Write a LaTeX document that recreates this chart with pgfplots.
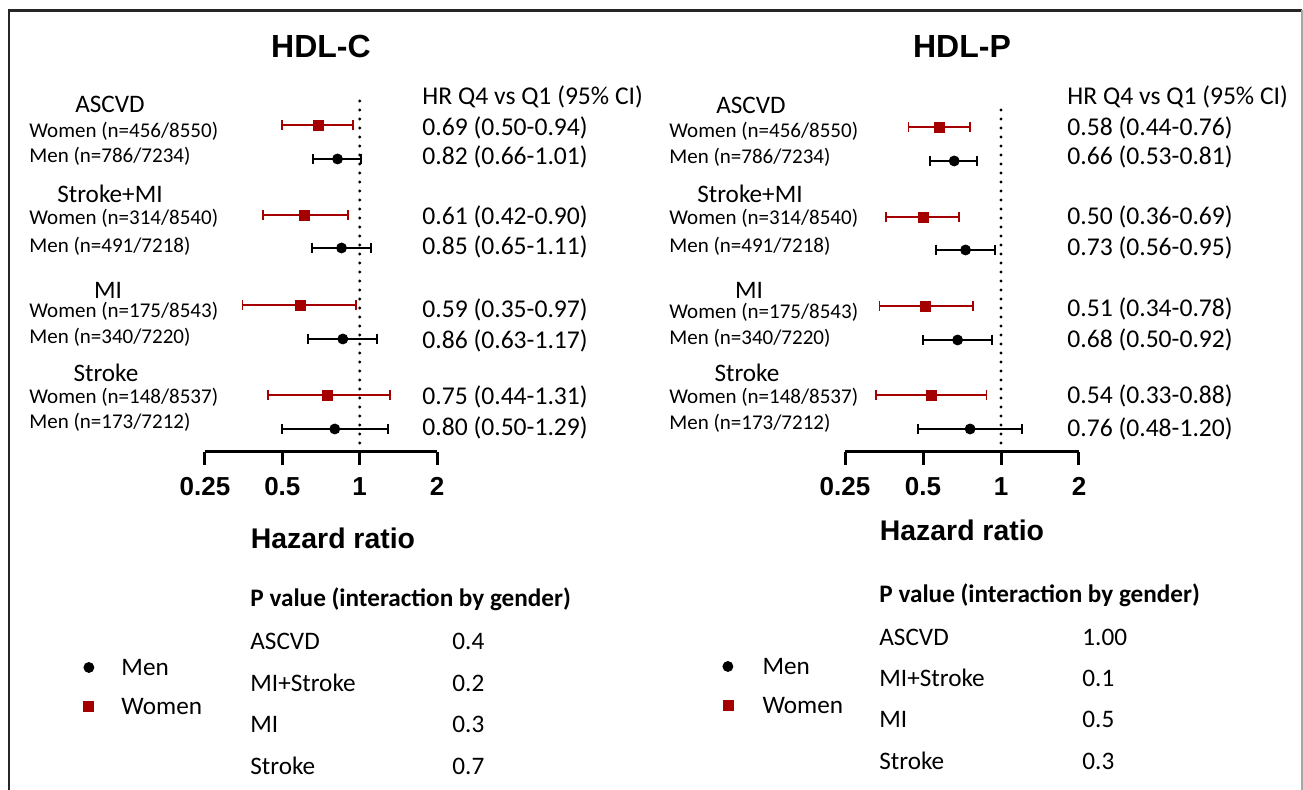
\documentclass[border=0pt]{standalone}
\usepackage{pgfplots}
\pgfplotsset{compat=1.18}
\usepackage{fontspec}
\setmainfont{Carlito}
\newfontfamily\arial{Liberation Sans}
\definecolor{wred}{RGB}{165,0,0}
\newcommand\fs[1]{\fontsize{#1}{#1}\selectfont}
% anchor, font, x(px), y(px from top), text
\newcommand\T[5]{\node[anchor=#1,inner sep=0pt,font=#2] at (#3,790-#4) {#5};}
\newcommand\ci[4]{\addplot[#4, forget plot, mark=|, mark options={solid}] coordinates {(#1,#3) (#2,#3)};}

\pgfplotsset{
  wci/.style={wred, line width=0.85pt, mark size=2.5pt},
  mci/.style={black, line width=1pt, mark size=2.7pt},
  wmark/.style={only marks, mark=square*, wred, mark size=2.5pt, forget plot},
  mmark/.style={only marks, mark=*, black, mark size=2.5pt, forget plot},
  refline/.style={black, line width=1.6pt, dash pattern=on 0pt off 4.5pt, line cap=round, forget plot},
}

\begin{document}
\begin{tikzpicture}[x=0.5pt,y=0.5pt]
\path[use as bounding box] (0,0) rectangle (1303,790);
% frame
\draw[black!85, line width=1.1pt] (9,0) -- (9,779.5) -- (1302,779.5);
\draw[black!35, line width=0.6pt] (1302,779.5) -- (1302,0);

% ---------------- LEFT PANEL: HDL-C ----------------
\begin{axis}[at={(102.5pt,169pt)}, anchor=south west,
    xmode=log, log basis x=2, xmin=0.25, xmax=2, ymin=338, ymax=695,
    scale only axis, width=116pt, height=178.5pt,
    axis x line*=bottom, axis y line=none,
    xtick={0.25,0.5,1,2}, xticklabels={0.25,0.5,1,2}, minor xtick={},
    xticklabel style={font=\arial\bfseries\fs{13}, inner sep=0pt, yshift=-6pt},
    tick align=outside, major tick length=6.5pt,
    tick style={black, line width=1.5pt},
    x axis line style={line width=1.5pt, -},
    clip=false,
    legend cell align=left,
    legend image code/.code={\draw[#1] plot coordinates {(0pt,0pt)};},
    legend style={at={(-0.5237,-0.5798)}, anchor=north west, draw=none, fill=none,
      inner sep=0pt, row sep=11.4pt, column sep=13.8pt, font=\fs{12.6},
      nodes={inner sep=0pt, text height=8.1pt, text depth=0pt}}]
\addlegendimage{mark=*, black, mark size=2.5pt}
\addlegendentry{Men}
\addlegendimage{mark=square*, wred, mark size=2.5pt}
\addlegendentry{Women}
\addplot[refline] coordinates {(1,338) (1,690)};
% women CIs
\ci{0.50}{0.94}{665}{wci}
\ci{0.42}{0.90}{575}{wci}
\ci{0.35}{0.97}{485}{wci}
\ci{0.44}{1.31}{395}{wci}
% men CIs
\ci{0.66}{1.01}{631}{mci}
\ci{0.65}{1.11}{542}{mci}
\ci{0.63}{1.17}{451}{mci}
\ci{0.50}{1.29}{361}{mci}
\addplot[wmark] coordinates {(0.69,665) (0.61,575) (0.59,485) (0.75,395)};
\addplot[mmark] coordinates {(0.82,631) (0.85,542) (0.86,451) (0.80,361)};
\end{axis}

% ---------------- RIGHT PANEL: HDL-P ----------------
\begin{axis}[at={(422.5pt,169pt)}, anchor=south west,
    xmode=log, log basis x=2, xmin=0.25, xmax=2, ymin=338, ymax=695,
    scale only axis, width=117pt, height=178.5pt,
    axis x line*=bottom, axis y line=none,
    xtick={0.25,0.5,1,2}, xticklabels={0.25,0.5,1,2}, minor xtick={},
    xticklabel style={font=\arial\bfseries\fs{13}, inner sep=0pt, yshift=-6pt},
    tick align=outside, major tick length=6.5pt,
    tick style={black, line width=1.5pt},
    x axis line style={line width=1.5pt, -},
    clip=false,
    legend cell align=left,
    legend image code/.code={\draw[#1] plot coordinates {(0pt,0pt)};},
    legend style={at={(-0.5235,-0.577)}, anchor=north west, draw=none, fill=none,
      inner sep=0pt, row sep=11.4pt, column sep=14.8pt, font=\fs{12.6},
      nodes={inner sep=0pt, text height=8.1pt, text depth=0pt}}]
\addlegendimage{mark=*, black, mark size=2.5pt}
\addlegendentry{Men}
\addlegendimage{mark=square*, wred, mark size=2.5pt}
\addlegendentry{Women}
\addplot[refline] coordinates {(1,338) (1,688)};
\ci{0.44}{0.76}{663}{wci}
\ci{0.36}{0.69}{573}{wci}
\ci{0.34}{0.78}{484}{wci}
\ci{0.33}{0.88}{395}{wci}
\ci{0.53}{0.81}{629}{mci}
\ci{0.56}{0.95}{540}{mci}
\ci{0.50}{0.92}{450}{mci}
\ci{0.48}{1.20}{361}{mci}
\addplot[wmark] coordinates {(0.58,663) (0.50,573) (0.51,484) (0.54,395)};
\addplot[mmark] coordinates {(0.66,629) (0.73,540) (0.68,450) (0.76,361)};
\end{axis}

% ---------------- TEXT: LEFT ----------------
\T{center}{\arial\bfseries\fs{16}}{321}{47}{HDL-C}
\T{center}{\fs{12.6}}{110}{104}{ASCVD}
\T{center}{\fs{12.6}}{110}{194}{Stroke+MI}
\T{center}{\fs{12.6}}{108}{290}{MI}
\T{center}{\fs{12.6}}{106}{373}{Stroke}
\T{west}{\fs{10.5}}{29}{131}{Women (n=456/8550)}
\T{west}{\fs{10.5}}{29}{156}{Men (n=786/7234)}
\T{west}{\fs{10.5}}{29}{218}{Women (n=314/8540)}
\T{west}{\fs{10.5}}{29}{246}{Men (n=491/7218)}
\T{west}{\fs{10.5}}{29}{311}{Women (n=175/8543)}
\T{west}{\fs{10.5}}{29}{337}{Men (n=340/7220)}
\T{west}{\fs{10.5}}{29}{397}{Women (n=148/8537)}
\T{west}{\fs{10.5}}{29}{422}{Men (n=173/7212)}
\T{west}{\fs{12.8}}{422}{97}{HR Q4 vs Q1 (95\% CI)}
\T{west}{\fs{12.8}}{422}{128}{0.69 (0.50-0.94)}
\T{west}{\fs{12.8}}{422}{157}{0.82 (0.66-1.01)}
\T{west}{\fs{12.8}}{422}{217}{0.61 (0.42-0.90)}
\T{west}{\fs{12.8}}{422}{247}{0.85 (0.65-1.11)}
\T{west}{\fs{12.8}}{422}{310}{0.59 (0.35-0.97)}
\T{west}{\fs{12.8}}{422}{341}{0.86 (0.63-1.17)}
\T{west}{\fs{12.8}}{422}{397}{0.75 (0.44-1.31)}
\T{west}{\fs{12.8}}{422}{428}{0.80 (0.50-1.29)}
\T{center}{\arial\bfseries\fs{14.2}}{333}{538}{Hazard ratio}
\T{west}{\bfseries\fs{12.6}}{250}{599}{P value (interaction by gender)}
\T{west}{\fs{12.6}}{250}{641}{ASCVD}
\T{west}{\fs{12.6}}{250}{683}{MI+Stroke}
\T{west}{\fs{12.6}}{250}{724}{MI}
\T{west}{\fs{12.6}}{250}{766}{Stroke}
\T{west}{\fs{12.6}}{452}{641}{0.4}
\T{west}{\fs{12.6}}{452}{683}{0.2}
\T{west}{\fs{12.6}}{452}{724}{0.3}
\T{west}{\fs{12.6}}{452}{766}{0.7}

% ---------------- TEXT: RIGHT ----------------
\T{center}{\arial\bfseries\fs{16}}{962}{47}{HDL-P}
\T{center}{\fs{12.6}}{751}{105}{ASCVD}
\T{center}{\fs{12.6}}{750}{194}{Stroke+MI}
\T{center}{\fs{12.6}}{749}{290}{MI}
\T{center}{\fs{12.6}}{747}{373}{Stroke}
\T{west}{\fs{10.5}}{669}{131}{Women (n=456/8550)}
\T{west}{\fs{10.5}}{669}{157}{Men (n=786/7234)}
\T{west}{\fs{10.5}}{669}{218}{Women (n=314/8540)}
\T{west}{\fs{10.5}}{669}{246}{Men (n=491/7218)}
\T{west}{\fs{10.5}}{669}{312}{Women (n=175/8543)}
\T{west}{\fs{10.5}}{669}{338}{Men (n=340/7220)}
\T{west}{\fs{10.5}}{669}{397}{Women (n=148/8537)}
\T{west}{\fs{10.5}}{669}{423}{Men (n=173/7212)}
\T{west}{\fs{12.8}}{1067}{97}{HR Q4 vs Q1 (95\% CI)}
\T{west}{\fs{12.8}}{1067}{128}{0.58 (0.44-0.76)}
\T{west}{\fs{12.8}}{1067}{157}{0.66 (0.53-0.81)}
\T{west}{\fs{12.8}}{1067}{217}{0.50 (0.36-0.69)}
\T{west}{\fs{12.8}}{1067}{248}{0.73 (0.56-0.95)}
\T{west}{\fs{12.8}}{1067}{309}{0.51 (0.34-0.78)}
\T{west}{\fs{12.8}}{1067}{340}{0.68 (0.50-0.92)}
\T{west}{\fs{12.8}}{1067}{396}{0.54 (0.33-0.88)}
\T{west}{\fs{12.8}}{1067}{429}{0.76 (0.48-1.20)}
\T{center}{\arial\bfseries\fs{14.2}}{962}{530}{Hazard ratio}
\T{west}{\bfseries\fs{12.6}}{879}{595}{P value (interaction by gender)}
\T{west}{\fs{12.6}}{879}{637}{ASCVD}
\T{west}{\fs{12.6}}{879}{678}{MI+Stroke}
\T{west}{\fs{12.6}}{879}{719}{MI}
\T{west}{\fs{12.6}}{879}{761}{Stroke}
\T{west}{\fs{12.6}}{1082}{637}{1.00}
\T{west}{\fs{12.6}}{1082}{678}{0.1}
\T{west}{\fs{12.6}}{1082}{719}{0.5}
\T{west}{\fs{12.6}}{1082}{761}{0.3}
\end{tikzpicture}
\end{document}
